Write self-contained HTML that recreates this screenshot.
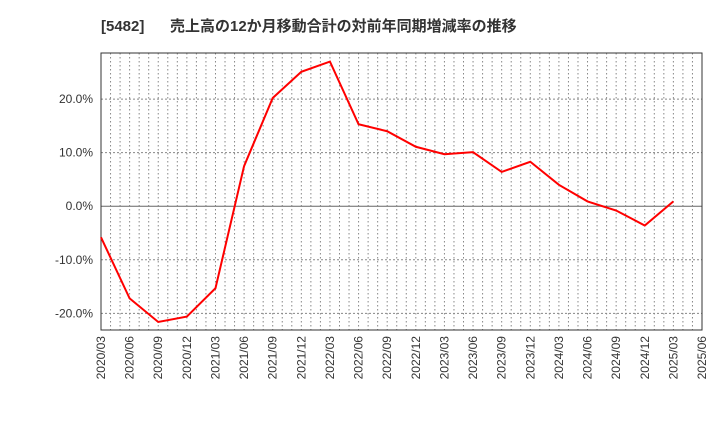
<!DOCTYPE html>
<html><head><meta charset="utf-8"><style>
body{margin:0;background:#fff;font-family:"Liberation Sans","Noto Sans CJK JP",sans-serif;}
</style></head><body>
<svg id="c" width="720" height="440" xmlns="http://www.w3.org/2000/svg">
<text x="101" y="31" font-size="15" font-weight="bold" fill="#333" font-family="Liberation Sans,Noto Sans CJK JP,sans-serif">[5482]<tspan x="170">売上高の12か月移動合計の対前年同期増減率の推移</tspan></text>
<g id="grid"></g><g id="axes"></g><g id="series"></g>
</svg>
<script>
const categories=["2020/03","2020/06","2020/09","2020/12","2021/03","2021/06","2021/09","2021/12","2022/03","2022/06","2022/09","2022/12","2023/03","2023/06","2023/09","2023/12","2024/03","2024/06","2024/09","2024/12","2025/03","2025/06"];
const values=[-5.8,-17.2,-21.6,-20.6,-15.3,7.5,20.2,25.1,27.0,15.3,14.0,11.1,9.7,10.1,6.4,8.3,4.0,0.9,-0.8,-3.6,0.9,null];
const yTicks=[-20,-10,0,10,20];
const yTickLabels=["-20.0%","-10.0%","0.0%","10.0%","20.0%"];
const L=101,R=702,T=53,B=330,yMax=28.6,yMin=-23.1;
const NS="http://www.w3.org/2000/svg";
const x=i=>L+(R-L)*i/(categories.length-1);
const y=v=>T+(yMax-v)/(yMax-yMin)*(B-T);
function mk(tag,attrs,parent){const e=document.createElementNS(NS,tag);for(const k in attrs)e.setAttribute(k,attrs[k]);parent.appendChild(e);return e;}
const grid=document.getElementById('grid'),axes=document.getElementById('axes'),ser=document.getElementById('series');
const months=(categories.length-1)*3;
for(let m=1;m<months;m++){const xx=L+(R-L)*m/months;
const g=mk('line',{x1:xx,x2:xx,y1:T,y2:B,stroke:'#888','stroke-width':1,'stroke-dasharray':'1.5,2.5'},grid);

}
yTicks.forEach((t,i)=>{const yy=y(t);
const g=mk('line',{x1:L,x2:R,y1:yy,y2:yy,stroke:t===0?'#666':'#888','stroke-width':1,'stroke-dasharray':t===0?'none':'2,2'},grid);


const tx=mk('text',{x:L-8,y:yy+4,'text-anchor':'end','font-size':12,fill:'#333'},axes);tx.textContent=yTickLabels[i];

});
categories.forEach((c,i)=>{const xx=x(i);
const tx=mk('text',{x:0,y:0,transform:`translate(${xx+4},${B+6}) rotate(-90)`,'text-anchor':'end','font-size':12,fill:'#333'},axes);tx.textContent=c;

});
const frame=mk('rect',{x:L,y:T,width:R-L,height:B-T,fill:'none',stroke:'#333','stroke-width':1},axes);


let d='';values.forEach((v,i)=>{if(v===null)return;d+=(d?'L':'M')+x(i)+','+y(v);});
const p=mk('path',{d:d,fill:'none',stroke:'#f00','stroke-width':2},ser);


</script>
</body></html>
